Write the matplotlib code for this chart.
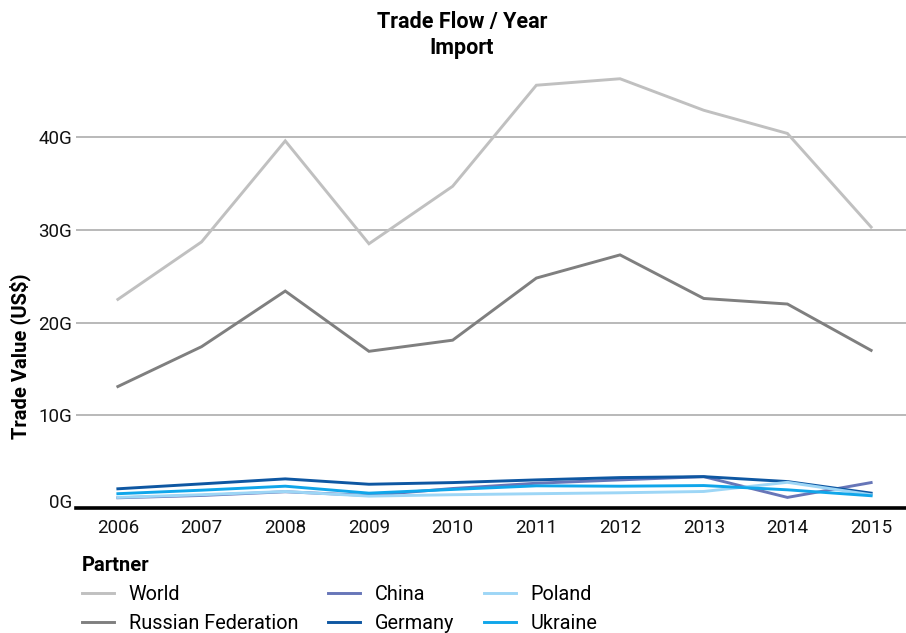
import matplotlib
matplotlib.use("Agg")
import matplotlib.pyplot as plt
import matplotlib.transforms as mtransforms

plt.rcParams['font.family'] = ['Roboto', 'DejaVu Sans']

# --- data (billions of US$) ---
years = [2006, 2007, 2008, 2009, 2010, 2011, 2012, 2013, 2014, 2015]
world = [22.5, 28.7, 39.6, 28.5, 34.7, 45.6, 46.3, 42.9, 40.4, 30.3]
russia = [13.1, 17.4, 23.4, 16.9, 18.1, 24.8, 27.3, 22.6, 22.0, 17.0]
china = [1.1, 1.35, 1.75, 1.35, 2.1, 2.67, 3.03, 3.38, 1.14, 2.74]
germany = [2.07, 2.6, 3.14, 2.56, 2.74, 3.03, 3.28, 3.38, 2.85, 1.6]
poland = [1.14, 1.43, 1.78, 1.28, 1.43, 1.54, 1.64, 1.78, 2.77, 1.43]
ukraine = [1.54, 1.92, 2.35, 1.6, 2.0, 2.39, 2.35, 2.42, 1.96, 1.32]

y_ticks = [0, 10, 20, 30, 40]
y_tick_labels = ['0G', '10G', '20G', '30G', '40G']

series = [
    ('World', world, '#c0c0c0'),
    ('Russian Federation', russia, '#7f7f7f'),
    ('China', china, '#6776b8'),
    ('Germany', germany, '#0e57a2'),
    ('Poland', poland, '#9dd6f6'),
    ('Ukraine', ukraine, '#10a6ea'),
]

fig = plt.figure(figsize=(9.06, 6.33), dpi=100)
ax = fig.add_axes([0.0839, 0.1975, 0.9238, 0.7030])

for name, vals, col in series:
    ax.plot(years, vals, color=col, linewidth=2.1, label=name, solid_joinstyle='miter')

ax.set_xlim(2005.5, 2015.5)
ax.set_ylim(0, 48)
ax.set_xticks(years)
ax.set_xticklabels([str(y) for y in years])
ax.set_yticks(y_ticks)
ax.set_yticklabels(y_tick_labels)

for v in y_ticks[1:]:
    ax.axhline(v, color='#a6a6a6', linewidth=1.1, zorder=0)

for s in ['top', 'right', 'left']:
    ax.spines[s].set_visible(False)
ax.spines['bottom'].set_linewidth(2.6)
ax.spines['bottom'].set_color('black')

ax.tick_params(axis='both', length=0, labelsize=13.5, colors='#111111')
ax.tick_params(axis='x', pad=8)
ax.tick_params(axis='y', pad=3)

# the "0G" label sits a little above the axis line
zero_lbl = ax.get_yticklabels()[0]
zero_lbl.set_transform(zero_lbl.get_transform() +
                       mtransforms.ScaledTranslation(0, 7 / 100, fig.dpi_scale_trans))

fig.text(0.022, 1 - 356 / 633, 'Trade Value (US$)', rotation=90, ha='center', va='center',
         fontsize=14.5, fontweight='bold')

fig.text(462 / 906, 1 - 22 / 633, 'Trade Flow / Year', ha='center', va='center',
         fontsize=15.5, fontweight='bold')
fig.text(462 / 906, 1 - 48 / 633, 'Import', ha='center', va='center',
         fontsize=15.5, fontweight='bold')

leg = fig.legend(loc='upper left', bbox_to_anchor=(82 / 906, 1 - 556 / 633), ncol=3,
                 frameon=False, fontsize=14.3, title='Partner', alignment='left',
                 title_fontproperties={'weight': 'bold', 'size': 14.5},
                 handlelength=1.6, handletextpad=0.75, columnspacing=1.5,
                 labelspacing=0.5, borderaxespad=0, borderpad=0)

fig.savefig('out.png', dpi=100)
